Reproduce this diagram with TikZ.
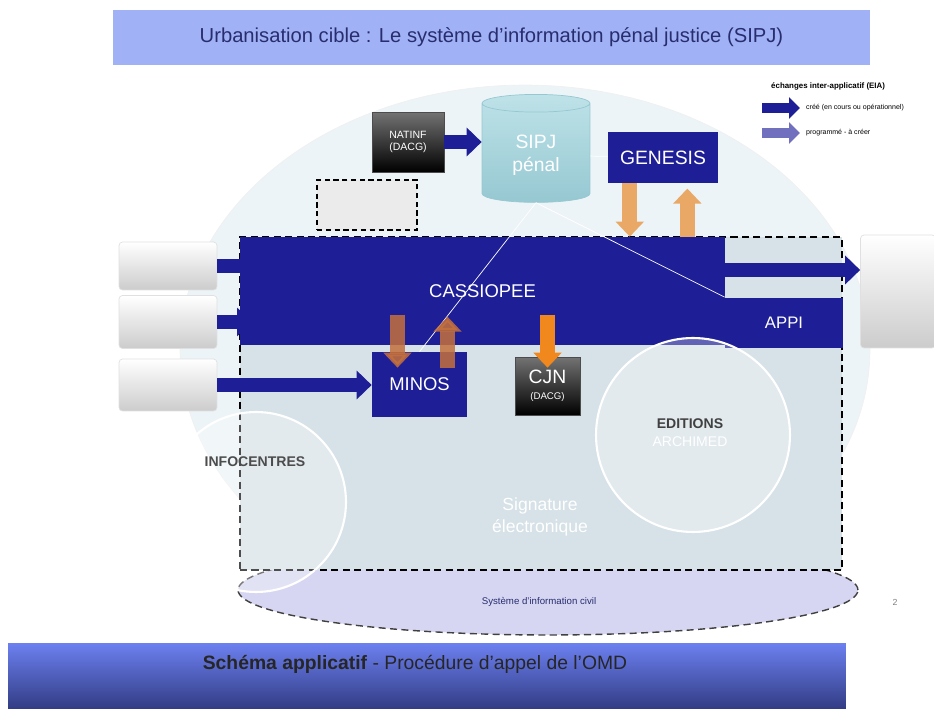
\documentclass[tikz,border=0pt]{standalone}
\usepackage{fontspec}
\setmainfont{Liberation Sans}
\usepackage{xcolor}
\usepackage{tikz}
\usetikzlibrary{shapes,shapes.geometric,arrows.meta,calc,positioning}
\definecolor{appblue}{RGB}{30,30,150}
\definecolor{barblue}{RGB}{160,178,245}
\definecolor{titleink}{RGB}{40,45,110}
\definecolor{zonebg}{RGB}{214,226,231}
\definecolor{domebg}{RGB}{236,244,247}
\definecolor{civilbg}{RGB}{214,214,242}
\definecolor{flowor}{RGB}{234,168,102}
\definecolor{flowbr}{RGB}{196,112,60}
\definecolor{flowcj}{RGB}{240,136,30}
\definecolor{legblue}{RGB}{112,112,190}
\definecolor{dbtop}{RGB}{190,226,232}
\definecolor{dbbot}{RGB}{150,200,210}
\definecolor{bantop}{RGB}{108,128,240}
\definecolor{banbot}{RGB}{50,60,132}
\tikzset{
	semithick,
	app/.style ={rectangle, fill=appblue, text=white, inner sep=0pt},
	ext/.style ={rectangle, top color=black!55, bottom color=black, draw=black!70, text=white, inner sep=0pt, align=center},
	ghost/.style ={rectangle, rounded corners=2pt, top color=white, bottom color=black!20, draw=black!12, inner sep=0pt},
	zone/.style ={circle, draw=white, line width=1.2pt, fill=white, fill opacity=0.3, inner sep=0pt},
	eia/.style ={draw=appblue, line width=0.28cm, -{Triangle[length=0.3cm,width=0.56cm]}},
	flow/.style ={line width=0.3cm, -{Triangle[length=0.3cm,width=0.55cm]}},
	wire/.style ={draw=white, thin}
}

\begin{document}
\begin{tikzpicture}[x=0.02cm, y=-0.02cm]
    \useasboundingbox (0,0) rectangle (934,709);
    % fonds
    \node[ellipse, fill=domebg, draw=black!6, minimum width=13.8cm, minimum height=10.6cm] (dome) at (525,350) {};
    \node[ellipse, fill=civilbg, draw=black!75, dash pattern=on 4pt off 2.5pt, thick, minimum width=12.4cm, minimum height=1.8cm] (civil) at (548,590) {};
    \node[rectangle, fill=zonebg, draw=black, dash pattern=on 4pt off 2.5pt, thick, minimum width=12.04cm, minimum height=6.66cm] (sipjzone) at (541,403.5) {};
    \node[font=\fontsize{5.5}{6}\selectfont, text=titleink] (civiltext) at (539,602) {Système d'information civil};
    \node[font=\fontsize{5}{6}\selectfont, text=black!50] (pagenum) at (895,602) {2};

    % bandeaux
    \node[rectangle, fill=barblue, minimum width=15.14cm, minimum height=1.1cm, text=titleink, font=\fontsize{11.5}{13}\selectfont] (title) at (491.5,37.5) {Urbanisation cible : Le système d'information pénal justice (SIPJ)};
    \node[rectangle, top color=bantop, bottom color=banbot, minimum width=16.76cm, minimum height=1.32cm] (banner) at (427,676) {};
    \node[font=\fontsize{11}{13}\selectfont, text=black!85] (bannertext) at (415,664) {\textbf{Schéma applicatif} - Procédure d'appel de l'OMD};

    % legende
    \node[anchor=west, font=\fontsize{4.5}{5}\selectfont\bfseries] (eiatitle) at (765,86) {échanges inter-applicatif (EIA)};
    \node[anchor=west, font=\fontsize{4}{5}\selectfont] (lega) at (800,108) {créé (en cours ou opérationnel)};
    \node[anchor=west, font=\fontsize{4}{5}\selectfont] (legb) at (800,133) {programmé - à créer};
    \coordinate (lega0) at (762,108);
    \coordinate (legb0) at (762,133);
    \draw[eia, line width=0.2cm, -{Triangle[length=0.22cm,width=0.42cm]}] (lega0) -- (lega.west);
    \draw[eia, draw=legblue, line width=0.2cm, -{Triangle[length=0.22cm,width=0.42cm]}] (legb0) -- (legb.west);

    % applications
    \node[ext, minimum width=1.44cm, minimum height=1.2cm, font=\fontsize{6}{7}\selectfont] (natinf) at (408,142) {NATINF\\(DACG)};
    \node[cylinder, shape border rotate=90, aspect=0.3, top color=dbtop, bottom color=dbbot, draw=dbbot, minimum width=2.16cm, minimum height=2.16cm, text=white, align=center, font=\fontsize{11}{13}\selectfont] (sipj) at (536,155) {SIPJ\\pénal};
    \node[rectangle, draw=black, dash pattern=on 3pt off 2pt, thick, fill=black!8, minimum width=2cm, minimum height=1cm] (notes) at (367,205) {};
    \node[app, minimum width=2.2cm, minimum height=1.02cm, font=\fontsize{11}{13}\selectfont] (genesis) at (663,157.5) {GENESIS};
    \node[app, minimum width=9.7cm, minimum height=2.16cm, font=\fontsize{10.5}{12}\selectfont] (cassiopee) at (482.5,291) {CASSIOPEE};
    \node[app, minimum width=2.36cm, minimum height=1.02cm, font=\fontsize{9.5}{11}\selectfont] (appi) at (784,323) {APPI};
    \node[app, minimum width=1.9cm, minimum height=1.3cm, font=\fontsize{10.5}{12}\selectfont] (minos) at (419.5,384.5) {MINOS};
    \node[ext, minimum width=1.3cm, minimum height=1.16cm, font=\fontsize{11}{11}\selectfont] (cjn) at (547.5,386) {CJN\\[-2pt]{\fontsize{5.5}{6}\selectfont (DACG)}};

    \node[ghost, minimum width=1.96cm, minimum height=0.96cm] (ghosta) at (168,266) {};
    \node[ghost, minimum width=1.96cm, minimum height=1.06cm] (ghostb) at (168,322) {};
    \node[ghost, minimum width=1.96cm, minimum height=1.04cm] (ghostc) at (168,385) {};
    \node[ghost, minimum width=1.5cm, minimum height=2.26cm] (ho) at (898,291.5) {};

    % flux
    \coordinate (intocass) at (272,266);
    \coordinate (intocassb) at (252,322);
    \coordinate (outho) at (720,270);
    \draw[eia] (ghosta) -- (intocass);
    \draw[eia] (ghostb) -- (intocassb);
    \draw[eia] (ghostc) -- (ghostc -| minos.west);
    \draw[eia] (outho) -- (ho.west |- outho);
    \draw[eia] (natinf.east) -- (natinf.east -| sipj.west);

    \path[wire] (sipj.south) edge (minos.north)
                (sipj.south) edge (appi.north west)
                (sipj) edge (genesis);

    \coordinate (gendown) at ($(genesis.south west)!.2!(genesis.south east)$);
    \coordinate (genup) at ($(genesis.south west)!.72!(genesis.south east)$);
    \draw[flow, flowor] (gendown) -- (gendown |- cassiopee.north);
    \draw[flow, flowor] (genup |- cassiopee.north) -- ([yshift=-3pt]genup);
    \draw[flow, flowbr, opacity=.85] ($(minos.north)+(-22,-37)$) -- ($(minos.north)+(-22,16)$);
    \draw[flow, flowbr, opacity=.85] ($(minos.north)+(28,16)$) -- ($(minos.north)+(28,-35)$);
    \draw[flow, flowcj] ($(cjn.north)+(0,-42)$) -- ($(cjn.north)+(0,11)$);

    % zones
    \node[zone, minimum size=3.6cm] (infocentres) at (256,502) {};
    \node[font=\fontsize{8}{9}\selectfont\bfseries, text=black!70] (infolabel) at (255,462) {INFOCENTRES};
    \node[zone, minimum size=3.88cm] (editions) at (693,435) {};
    \node[font=\fontsize{8}{9}\selectfont\bfseries, text=black!75] (editlabel) at (690,424) {EDITIONS};
    \node[font=\fontsize{8}{9}\selectfont, text=white] (archimed) at (690,442) {ARCHIMED};
    \node[font=\fontsize{10}{12.5}\selectfont, text=white, align=center] (signature) at (540,517) {Signature\\électronique};
\end{tikzpicture}
\end{document}
